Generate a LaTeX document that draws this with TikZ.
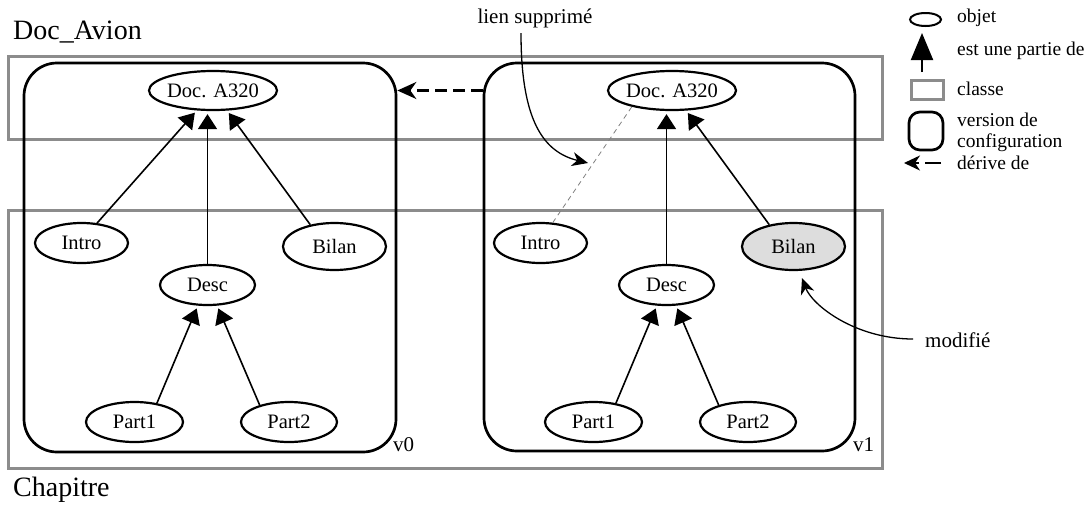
\documentclass[tikz,border=0pt]{standalone}
\usepackage{fontspec}
\setmainfont{LiberationSerif}[Extension=.ttf,UprightFont=*-Regular,BoldFont=*-Bold,ItalicFont=*-Italic,BoldItalicFont=*-BoldItalic]
\usetikzlibrary{shapes.geometric,arrows.meta}
\definecolor{classgray}{RGB}{140,140,140}
\definecolor{modfill}{RGB}{221,221,221}
\begin{document}
\begin{tikzpicture}[x=1pt,y=-1pt,
  obj/.style={ellipse,draw,line width=2.2pt,inner sep=0pt,font=\fontsize{20.5pt}{24pt}\selectfont},
  cls/.style={rectangle,draw=classgray,line width=3pt,inner sep=0pt},
  cfg/.style={rectangle,draw,line width=2.7pt,rounded corners=33pt,inner sep=0pt},
  isa/.style={line width=1.6pt,-{Triangle[length=15pt,width=19pt]},shorten >=3pt},
  derive/.style={line width=2.2pt,dash pattern=on 12pt off 6pt,-{Stealth[length=19pt,width=17pt,inset=6pt]}},
  lgderive/.style={line width=2.2pt,dash pattern=on 16pt off 6pt,-{Stealth[length=16pt,width=15pt,inset=5pt]}},
  deleted/.style={draw=gray,line width=0.8pt,dash pattern=on 5pt off 4pt},
  note/.style={line width=1.3pt,-{Stealth[length=16pt,width=14pt,inset=5pt]}},
  lbl/.style={font=\fontsize{21pt}{24pt}\selectfont,inner sep=0pt},
  big/.style={font=\fontsize{28pt}{32pt}\selectfont,inner sep=0pt},
  leg/.style={font=\fontsize{19.5pt}{21pt}\selectfont,inner sep=0pt,anchor=west},
]
\useasboundingbox (0,0) rectangle (1087,504);

% classes
\node[cls,minimum width=874pt,minimum height=83pt] (kDoc) at (445,97.5) {};
\node[cls,minimum width=874pt,minimum height=258pt] (kChap) at (445,339) {};
\node[big,anchor=base west] (tDoc) at (13,39) {Doc\_Avion};
\node[big,anchor=base west] (tChap) at (13,496) {Chapitre};

% configuration versions
\node[cfg,minimum width=372pt,minimum height=389pt] (cL) at (210,257.5) {};
\node[cfg,minimum width=371pt,minimum height=388pt] (cR) at (669.5,257) {};
\node[lbl,anchor=base west] (vL) at (393,451) {v0};
\node[lbl,anchor=base west] (vR) at (853,451) {v1};

\foreach \s/\o/\fc in {L/0/white,R/459/modfill}{
  \begin{scope}[xshift=\o pt]
    \node[obj,minimum width=128pt,minimum height=39pt] (d\s) at (213,90.5) {\makebox[0pt]{Doc. A320}};
    \node[obj,minimum width=93pt,minimum height=40pt] (i\s) at (81.5,243) {\makebox[0pt]{Intro}};
    \node[obj,fill=\fc,minimum width=103pt,minimum height=47pt] (b\s) at (334.5,246.5) {\makebox[0pt]{Bilan}};
    \node[obj,minimum width=95pt,minimum height=40pt] (ds\s) at (207.5,285) {\makebox[0pt]{Desc}};
    \node[obj,minimum width=97pt,minimum height=40pt] (pa\s) at (134.5,422) {\makebox[0pt]{Part1}};
    \node[obj,minimum width=96pt,minimum height=40pt] (pb\s) at (289,422) {\makebox[0pt]{Part2}};
    \draw[isa] (ds\s.north) -- (ds\s.north |- d\s.south);
    \draw[isa] (b\s.138) -- (d\s.305);
    \draw[isa] (pa\s.40) -- (ds\s.245);
    \draw[isa] (pb\s.150) -- (ds\s.295);
  \end{scope}
}
\draw[isa] (iL.52) -- (dL.231);
\draw[deleted] (iR.59) -- (dR.202);

% derivation
\draw[derive] (cR.west |- dR.center) -- (cL.east |- dR.center);

% annotations
\node[lbl,anchor=base] (ls) at (535,23) {lien supprimé};
\coordinate (lsA) at (521,33);
\coordinate (lsB) at (588,163);
\draw[note] (lsA) .. controls (521,120) and (543,152) .. (lsB);

\node[lbl,anchor=west] (mod) at (925,340) {modifié};
\coordinate (modA) at (913,339);
\coordinate (modB) at (802,278);
\draw[note] (modA) .. controls (855,339) and (812,305) .. (modB);

% legend
\node[ellipse,draw,line width=2pt,minimum width=31pt,minimum height=13pt,inner sep=0pt] (lgObj) at (925.5,19.5) {};
\node[leg] (lgObjT) at (957,18) {objet};
\coordinate (lgA1) at (922,72);
\coordinate (lgA2) at (922,33);
\draw[line width=2pt,-{Triangle[length=27pt,width=22pt]}] (lgA1) -- (lgA2);
\node[leg] (lgIsaT) at (957,51) {est une partie de};
\node[cls,minimum width=32pt,minimum height=19pt] (lgCls) at (927,89.5) {};
\node[leg] (lgClsT) at (957,89) {classe};
\node[cfg,rounded corners=11pt,minimum width=34pt,minimum height=38pt] (lgCfg) at (926,131) {};
\node[leg,align=left] (lgCfgT) at (957,132) {version de\\configuration};
\coordinate (lgD1) at (941,163);
\coordinate (lgD2) at (904,163);
\draw[lgderive] (lgD1) -- (lgD2);
\node[leg] (lgDerT) at (957,163) {dérive de};
\end{tikzpicture}
\end{document}
